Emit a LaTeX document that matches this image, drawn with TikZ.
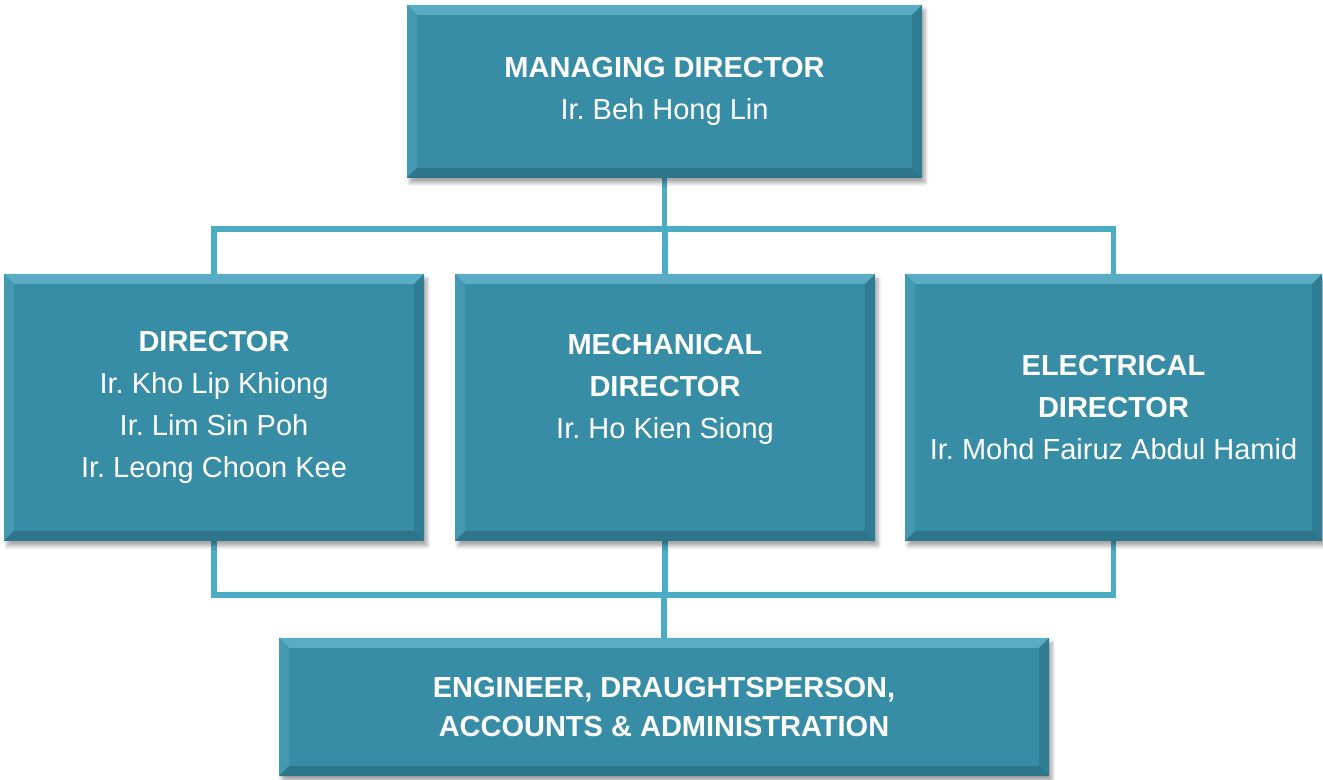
\documentclass[tikz,border=0pt]{standalone}
\usepackage{fontspec}
\setmainfont{Liberation Sans}
\frenchspacing
\usetikzlibrary{shadows.blur,backgrounds}

\definecolor{boxteal}{RGB}{56,141,166}
\definecolor{linkblue}{RGB}{75,172,198}
\definecolor{bvtop}{RGB}{90,172,197}
\definecolor{bvleft}{RGB}{68,153,178}
\definecolor{bvright}{RGB}{47,124,147}
\definecolor{bvbottom}{RGB}{45,117,139}

\tikzset{
  orgbox/.style={fill=boxteal, text=white, align=center, inner sep=0pt,
    font=\fontsize{16.5}{24}\selectfont,
    blur shadow={shadow xshift=0.6mm, shadow yshift=-1mm, shadow opacity=35, shadow blur steps=6},
    path picture={
      \def\bv{0.2}
      \coordinate (bvnw) at (path picture bounding box.north west);
      \coordinate (bvne) at (path picture bounding box.north east);
      \coordinate (bvsw) at (path picture bounding box.south west);
      \coordinate (bvse) at (path picture bounding box.south east);
      % bevelled edges
      \fill[bvtop] (bvnw) -- (bvne) -- ([shift={(-\bv,-\bv)}]bvne) -- ([shift={(\bv,-\bv)}]bvnw) -- cycle;
      \fill[bvleft] (bvnw) -- (bvsw) -- ([shift={(\bv,\bv)}]bvsw) -- ([shift={(\bv,-\bv)}]bvnw) -- cycle;
      \fill[bvright] (bvne) -- (bvse) -- ([shift={(-\bv,\bv)}]bvse) -- ([shift={(-\bv,-\bv)}]bvne) -- cycle;
      \fill[bvbottom] (bvsw) -- (bvse) -- ([shift={(-\bv,\bv)}]bvse) -- ([shift={(\bv,\bv)}]bvsw) -- cycle;
    }},
  link/.style={draw=linkblue, line width=3.4pt}
}

\begin{document}
\begin{tikzpicture}
\useasboundingbox (0,0) rectangle (26.46,15.58);

% Boxes
\node[orgbox, minimum width=10.3cm, minimum height=3.46cm] (md) at (13.29,13.75)
  {\textbf{MANAGING DIRECTOR}\\Ir. Beh Hong Lin};
\node[orgbox, minimum width=8.4cm, minimum height=5.34cm] (dir) at (4.28,7.43)
  {\textbf{DIRECTOR}\\Ir. Kho Lip Khiong\\Ir. Lim Sin Poh\\Ir. Leong Choon Kee};
\node[orgbox, minimum width=8.4cm, minimum height=5.34cm] (mech) at (13.3,7.43)
  {\textbf{MECHANICAL}\\\textbf{DIRECTOR}\\Ir. Ho Kien Siong\\\mbox{}};
\node[orgbox, minimum width=8.34cm, minimum height=5.34cm] (elec) at (22.27,7.43)
  {\textbf{ELECTRICAL}\\\textbf{DIRECTOR}\\Ir. Mohd Fairuz Abdul Hamid};
\node[orgbox, minimum width=15.4cm, minimum height=2.76cm,
  font=\fontsize{16.5}{22}\selectfont\bfseries] (staff) at (13.28,1.44)
  {ENGINEER, DRAUGHTSPERSON,\\ACCOUNTS \& ADMINISTRATION};

% Bus lines
\coordinate (topbus) at (0,11.0);
\coordinate (botbus) at (0,3.68);

\begin{scope}[on background layer]
\draw[link] (md.south) -- (md.south |- topbus);
\draw[link] (dir.north) |- (elec.north |- topbus) -- (elec.north);
\draw[link] (mech.north) -- (mech.north |- topbus);
\draw[link] (dir.south) |- (elec.south |- botbus) -- (elec.south);
\draw[link] (mech.south) -- (mech.south |- botbus);
\draw[link] (staff.north) -- (staff.north |- botbus);
\end{scope}
\end{tikzpicture}
\end{document}
